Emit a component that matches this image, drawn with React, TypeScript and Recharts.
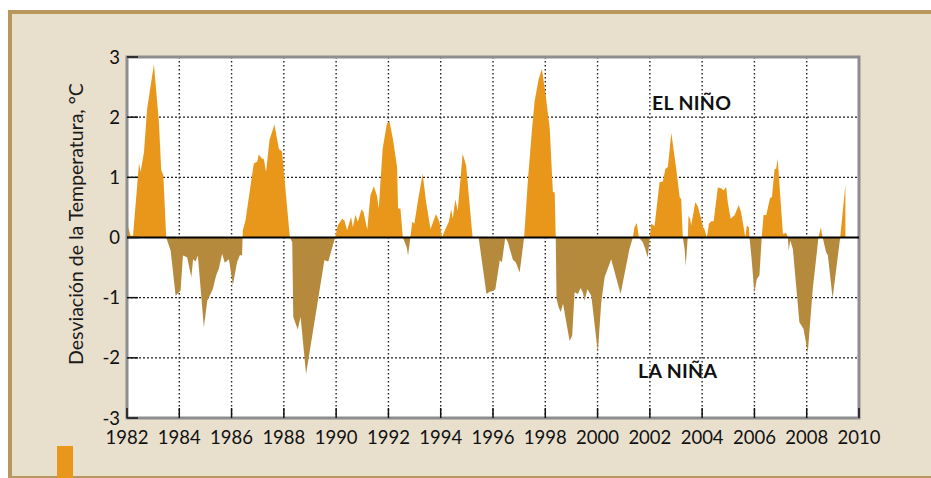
import React from 'react';
import {
  AreaChart, Area, XAxis, YAxis, CartesianGrid, ReferenceLine, ReferenceArea,
} from 'recharts';

// Desviación de la temperatura (°C)
const years = [
  1982.00, 1982.14, 1982.23, 1982.46, 1982.52, 1982.65, 1982.77, 1983.03, 1983.22, 1983.31,
  1983.39, 1983.50, 1983.67, 1983.86, 1984.05, 1984.14, 1984.30, 1984.46, 1984.53, 1984.62,
  1984.71, 1984.94, 1985.07, 1985.28, 1985.41, 1985.51, 1985.64, 1985.74, 1985.90, 1986.05,
  1986.21, 1986.32, 1986.40, 1986.43, 1986.53, 1986.85, 1986.98, 1987.04, 1987.17, 1987.23,
  1987.32, 1987.45, 1987.64, 1987.81, 1987.93, 1988.23, 1988.32, 1988.36, 1988.53, 1988.64,
  1988.85, 1989.55, 1989.70, 1989.96, 1990.06, 1990.23, 1990.32, 1990.42, 1990.57, 1990.64,
  1990.74, 1990.83, 1990.97, 1991.05, 1991.19, 1991.31, 1991.44, 1991.56, 1991.63, 1991.78,
  1991.94, 1992.04, 1992.17, 1992.33, 1992.37, 1992.46, 1992.55, 1992.70, 1992.75, 1992.84,
  1992.91, 1992.99, 1993.14, 1993.31, 1993.44, 1993.61, 1993.82, 1993.95, 1994.05, 1994.18,
  1994.31, 1994.40, 1994.46, 1994.56, 1994.65, 1994.84, 1994.97, 1995.22, 1995.45, 1995.75,
  1995.87, 1996.00, 1996.09, 1996.26, 1996.34, 1996.47, 1996.57, 1996.76, 1996.87, 1997.02,
  1997.19, 1997.34, 1997.50, 1997.59, 1997.75, 1997.87, 1998.00, 1998.17, 1998.29, 1998.36,
  1998.40, 1998.43, 1998.51, 1998.59, 1998.68, 1998.76, 1998.93, 1999.03, 1999.12, 1999.25,
  1999.35, 1999.44, 1999.50, 1999.61, 1999.76, 2000.01, 2000.14, 2000.27, 2000.52, 2000.88,
  2001.22, 2001.35, 2001.41, 2001.50, 2001.58, 2001.73, 2001.80, 2001.92, 2002.00, 2002.05,
  2002.18, 2002.37, 2002.50, 2002.59, 2002.69, 2002.82, 2003.01, 2003.14, 2003.20, 2003.26,
  2003.33, 2003.37, 2003.45, 2003.48, 2003.54, 2003.58, 2003.74, 2003.84, 2003.96, 2004.03,
  2004.09, 2004.18, 2004.26, 2004.35, 2004.44, 2004.60, 2004.73, 2004.82, 2004.92, 2004.98,
  2005.09, 2005.24, 2005.40, 2005.49, 2005.60, 2005.65, 2005.71, 2005.79, 2005.81, 2005.88,
  2006.00, 2006.09, 2006.19, 2006.28, 2006.35, 2006.45, 2006.60, 2006.67, 2006.77, 2006.83,
  2006.89, 2006.96, 2007.09, 2007.21, 2007.28, 2007.31, 2007.37, 2007.47, 2007.72, 2007.88,
  2008.04, 2008.23, 2008.45, 2008.54, 2008.61, 2008.74, 2008.81, 2008.99, 2009.28, 2009.48,
];

const anomalies = [
  0.24, 0.03, 0.03, 1.24, 1.09, 1.42, 2.14, 2.88, 1.92, 1.12,
  1.03, 0, -0.22, -0.97, -0.88, -0.30, -0.33, -0.66, -0.36, -0.40,
  -0.30, -1.49, -1.05, -0.86, -0.63, -0.52, -0.27, -0.42, -0.36, -0.79,
  -0.41, -0.29, -0.30, 0.12, 0.28, 1.23, 1.26, 1.38, 1.31, 1.31,
  1.09, 1.62, 1.88, 1.47, 1.43, 0, -0.08, -1.32, -1.53, -1.32,
  -2.27, -0.38, -0.40, 0, 0.20, 0.31, 0.28, 0.12, 0.34, 0.17,
  0.38, 0.26, 0.47, 0.42, 0.13, 0.70, 0.85, 0.70, 0.48, 1.48,
  1.89, 1.93, 1.64, 1.17, 0.48, 0.48, 0, -0.16, -0.30, 0,
  0.26, 0.23, 0.64, 1.06, 0.59, 0.14, 0.39, 0.26, 0, 0.14,
  0.26, 0.47, 0.31, 0.63, 0.45, 1.39, 1.20, 0, 0, -0.94,
  -0.90, -0.89, -0.86, -0.38, -0.41, 0, -0.08, -0.37, -0.41, -0.58,
  0, 0.98, 1.84, 2.26, 2.64, 2.80, 2.42, 1.81, 0.76, 0.75,
  0, -1.02, -1.16, -1.24, -1.10, -1.30, -1.72, -1.63, -0.91, -0.94,
  -0.84, -0.92, -1.05, -0.86, -0.97, -1.91, -1.08, -0.66, -0.36, -0.94,
  -0.19, 0, 0.17, 0.24, 0, -0.08, -0.16, -0.33, 0, 0.23,
  0.19, 0.92, 0.93, 1.14, 1.17, 1.74, 1.14, 0.67, 0.64, 0,
  -0.19, -0.47, 0, 0.36, 0.31, 0.20, 0.59, 0.51, 0.31, 0.17,
  0.14, 0, 0.23, 0.27, 0.27, 0.83, 0.82, 0.78, 0.84, 0.59,
  0.31, 0.37, 0.54, 0.42, 0.14, 0, 0.20, 0.17, 0, -0.30,
  -0.92, -0.69, -0.63, 0, 0.38, 0.37, 0.66, 0.67, 1.14, 1.14,
  1.31, 0.87, 0.06, 0.08, 0, -0.22, -0.05, -0.19, -1.41, -1.52,
  -1.92, -0.86, 0, 0.17, 0, -0.24, -0.30, -1.01, 0, 0.88,
];

const xTicks = [1982, 1984, 1986, 1988, 1990, 1992, 1994, 1996, 1998, 2000, 2002, 2004, 2006, 2008, 2010];
const yTicks = [-3, -2, -1, 0, 1, 2, 3];

const data = years.map((year, i) => ({ year, v: anomalies[i] }));

const maxV = Math.max(...anomalies);
const minV = Math.min(...anomalies);
const zeroOffset = maxV / (maxV - minV);

const WARM = '#e8971a';
const COLD = '#b58a3d';
const FONT = 'Lato, "Open Sans", sans-serif';

const App: React.FC = () => {
  return (
    <div style={{ position: 'absolute', left: 0, top: 0, width: 931, height: 478, background: '#fff', overflow: 'hidden', fontFamily: FONT }}>
      <div
        style={{
          position: 'absolute', left: 8, top: 10, width: 923, height: 468, boxSizing: 'border-box',
          background: '#e8dfcd', borderTop: '4px solid #b8975f', borderLeft: '4px solid #b8975f',
          borderBottom: '2px solid #b8975f',
        }}
      />
      <div style={{ position: 'absolute', left: 57, top: 446, width: 16, height: 32, background: WARM }} />

      <div style={{ position: 'absolute', left: 0, top: 0 }}>
        <AreaChart width={931} height={478} data={data} margin={{ top: 47, right: 62, bottom: 30, left: 77 }}>
          <defs>
            <linearGradient id="ensoFill" x1="0" y1="0" x2="0" y2="1">
              <stop offset={zeroOffset} stopColor={WARM} />
              <stop offset={zeroOffset} stopColor={COLD} />
            </linearGradient>
          </defs>
          <CartesianGrid fill="#fff" vertical={false} stroke="#222" strokeWidth={1.3} strokeDasharray="2 2" horizontalValues={[-2, -1, 1, 2]} />
          <CartesianGrid horizontal={false} stroke="#222" strokeWidth={1.4} strokeDasharray="1.4 2.6" verticalValues={xTicks.slice(1, -1)} />
          <XAxis
            dataKey="year" type="number" domain={[1982, 2010]} ticks={xTicks} allowDataOverflow
            height={30} axisLine={false} tickSize={-10} tickMargin={23}
            tickLine={{ stroke: '#111', strokeWidth: 1.5 }}
            tick={{ fill: '#111', fontSize: 18.5, fontFamily: FONT }}
          />
          <XAxis
            xAxisId="top" orientation="top" type="number" domain={[1982, 2010]} ticks={xTicks.slice(1, -1)}
            height={10} axisLine={false} tickSize={-10} tick={false}
            tickLine={{ stroke: '#111', strokeWidth: 1.5 }}
          />
          <YAxis
            type="number" domain={[-3, 3]} ticks={yTicks} width={50} axisLine={false}
            tickSize={-11} tickMargin={18} tickLine={{ stroke: '#111', strokeWidth: 1.5 }}
            tick={{ fill: '#111', fontSize: 18.5, fontFamily: FONT }}
          />
          <YAxis
            yAxisId="right" orientation="right" type="number" domain={[-3, 3]} ticks={[-2, -1, 1, 2]}
            width={10} axisLine={false} tickSize={-14} tick={false}
            tickLine={{ stroke: '#111', strokeWidth: 1.5 }}
          />
          <Area
            type="linear" dataKey="v" baseValue={0} stroke="none" fill="url(#ensoFill)" fillOpacity={1}
            isAnimationActive={false} dot={false} activeDot={false}
          />
          <ReferenceLine y={0} stroke="#000" strokeWidth={2} />
          <ReferenceArea x1={1982} x2={2010} y1={-3} y2={3} fill="none" stroke="#8e8e8e" strokeWidth={3} ifOverflow="visible" />
        </AreaChart>
      </div>

      <div
        style={{
          position: 'absolute', left: 75, top: 224, transform: 'translate(-50%, -50%) rotate(-90deg)',
          whiteSpace: 'nowrap', fontSize: 19.5, color: '#1a1a1a',
        }}
      >
        Desviación de la Temperatura, °C
      </div>
      <div style={{ position: 'absolute', left: 652, top: 91, fontSize: 19.5, fontWeight: 700, color: '#111', letterSpacing: 0.3 }}>
        EL NIÑO
      </div>
      <div style={{ position: 'absolute', left: 638, top: 359, fontSize: 19.5, fontWeight: 700, color: '#111', letterSpacing: 0.3 }}>
        LA NIÑA
      </div>
    </div>
  );
};

export default App;
